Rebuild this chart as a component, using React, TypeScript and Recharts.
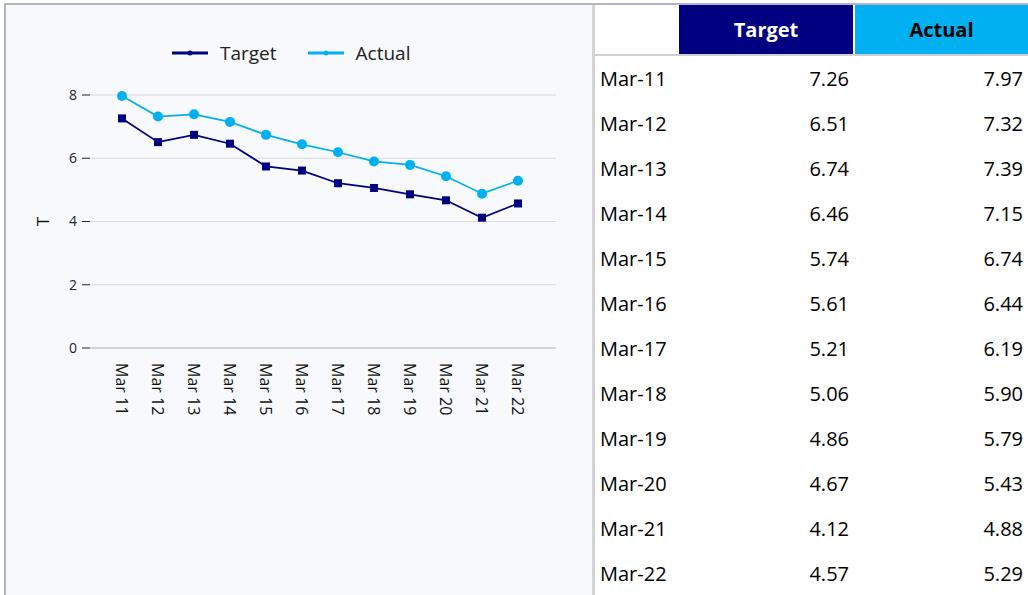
import React from 'react';
import { LineChart, Line, XAxis, YAxis, CartesianGrid, Legend } from 'recharts';

const categories = ['Mar 11', 'Mar 12', 'Mar 13', 'Mar 14', 'Mar 15', 'Mar 16', 'Mar 17', 'Mar 18', 'Mar 19', 'Mar 20', 'Mar 21', 'Mar 22'];
const tableLabels = ['Mar-11', 'Mar-12', 'Mar-13', 'Mar-14', 'Mar-15', 'Mar-16', 'Mar-17', 'Mar-18', 'Mar-19', 'Mar-20', 'Mar-21', 'Mar-22'];
const targetValues = [7.26, 6.51, 6.74, 6.46, 5.74, 5.61, 5.21, 5.06, 4.86, 4.67, 4.12, 4.57];
const actualValues = [7.97, 7.32, 7.39, 7.15, 6.74, 6.44, 6.19, 5.9, 5.79, 5.43, 4.88, 5.29];
const yTicks = [0, 2, 4, 6, 8];
const seriesNames = ['Target', 'Actual'];
const yAxisTitle = 'T';

const NAVY = '#000080';
const CYAN = '#00b0f0';
const FONT = '"Open Sans", "Noto Sans", sans-serif';

const data = categories.map((c, i) => ({ name: c, target: targetValues[i], actual: actualValues[i] }));

const XTick = (props: any) => {
  const { x, y, payload } = props;
  const ty = y + 15;
  return (
    <text
      x={x}
      y={ty}
      transform={`rotate(90 ${x} ${ty})`}
      textAnchor="start"
      dominantBaseline="central"
      fontSize={16}
      fontFamily={FONT}
      fill="#111"
    >
      {payload.value}
    </text>
  );
};

const SquareDot = (props: any) => {
  const { cx, cy, index } = props;
  if (cx == null || cy == null) return null;
  return <rect key={`sq-${index}`} x={cx - 4} y={cy - 4} width={8} height={8} fill={NAVY} />;
};

const YLabel = (props: any) => {
  const { viewBox } = props;
  const x = viewBox.x + 22;
  const y = viewBox.y + viewBox.height / 2;
  return (
    <text
      x={x}
      y={y}
      transform={`rotate(-90 ${x} ${y})`}
      textAnchor="middle"
      dominantBaseline="central"
      fontSize={17}
      fontFamily={FONT}
      fill="#111"
    >
      {yAxisTitle}
    </text>
  );
};

const LegendContent = () => {
  const colors = [NAVY, CYAN];
  return (
    <div style={{ display: 'flex', alignItems: 'center', paddingLeft: 172, fontFamily: FONT }}>
      {seriesNames.map((n, i) => (
        <div key={n} style={{ display: 'flex', alignItems: 'center', marginRight: 31 }}>
          <svg width={36} height={10} style={{ display: 'block' }}>
            <line x1={0} y1={5} x2={36} y2={5} stroke={colors[i]} strokeWidth={3} />
            <circle cx={18} cy={5} r={2.5} fill={colors[i]} />
          </svg>
          <span style={{ marginLeft: 12, fontSize: 19, color: '#222', lineHeight: '24px' }}>{n}</span>
        </div>
      ))}
    </div>
  );
};

export default function App() {
  return (
    <div style={{ position: 'absolute', left: 0, top: 0, width: 1028, height: 595, background: '#fff', overflow: 'hidden' }}>
      {/* chart panel */}
      <div style={{ position: 'absolute', left: 6, top: 5, width: 587, height: 590, background: '#f7f9fc' }} />
      <div style={{ position: 'absolute', left: 4, top: 3, width: 1024, height: 2, background: '#b4b4c2' }} />
      <div style={{ position: 'absolute', left: 4, top: 3, width: 2, height: 592, background: '#b4b4c2' }} />
      <div style={{ position: 'absolute', left: 592, top: 5, width: 3, height: 590, background: '#d4d4d4' }} />
      <div style={{ position: 'absolute', left: 0, top: 0 }}>
        <LineChart width={593} height={440} data={data} margin={{ top: 95, right: 37, bottom: 22, left: 20 }}>
          <CartesianGrid vertical={false} stroke="#d9d9d9" />
          <XAxis
            dataKey="name"
            interval={0}
            tickLine={false}
            tickSize={0}
            tickMargin={0}
            height={70}
            padding={{ left: 32, right: 38 }}
            axisLine={{ stroke: '#bdbdbd' }}
            tick={<XTick />}
          />
          <YAxis
            width={70}
            domain={[0, 8]}
            ticks={yTicks}
            axisLine={false}
            tickLine={{ stroke: '#222' }}
            tickSize={8}
            tickMargin={5}
            tick={{ fontSize: 14, fill: '#222', fontFamily: FONT }}
            label={<YLabel />}
          />
          <Legend
            verticalAlign="middle"
            align="center"
            content={<LegendContent />}
            wrapperStyle={{ top: 41, left: 0, width: 593 }}
          />
          <Line
            type="linear"
            dataKey="target"
            name={seriesNames[0]}
            stroke={NAVY}
            strokeWidth={1.75}
            dot={<SquareDot />}
            isAnimationActive={false}
          />
          <Line
            type="linear"
            dataKey="actual"
            name={seriesNames[1]}
            stroke={CYAN}
            strokeWidth={1.75}
            dot={{ r: 5, fill: CYAN, stroke: CYAN, strokeWidth: 0 }}
            isAnimationActive={false}
          />
        </LineChart>
      </div>
      {/* table */}
      <div style={{ position: 'absolute', left: 595, top: 5, width: 433, fontFamily: FONT, fontSize: 20, color: '#000' }}>
        <div style={{ display: 'flex', height: 49, borderBottom: '2px solid #d0d0d0', background: '#fff' }}>
          <div style={{ width: 84 }} />
          <div style={{ width: 174, background: NAVY, color: '#fff', fontWeight: 700, display: 'flex', alignItems: 'center', justifyContent: 'center', marginRight: 2 }}>
            {seriesNames[0]}
          </div>
          <div style={{ width: 173, background: CYAN, color: '#000', fontWeight: 700, display: 'flex', alignItems: 'center', justifyContent: 'center' }}>
            {seriesNames[1]}
          </div>
        </div>
        {tableLabels.map((lab, i) => (
          <div key={lab} style={{ display: 'flex', height: 45, alignItems: 'center' }}>
            <div style={{ width: 84, paddingLeft: 5, boxSizing: 'border-box' }}>{lab}</div>
            <div style={{ width: 174, textAlign: 'right', paddingRight: 4, boxSizing: 'border-box', marginRight: 2 }}>
              {targetValues[i].toFixed(2)}
            </div>
            <div style={{ width: 173, textAlign: 'right', paddingRight: 5, boxSizing: 'border-box' }}>
              {actualValues[i].toFixed(2)}
            </div>
          </div>
        ))}
      </div>
    </div>
  );
}
